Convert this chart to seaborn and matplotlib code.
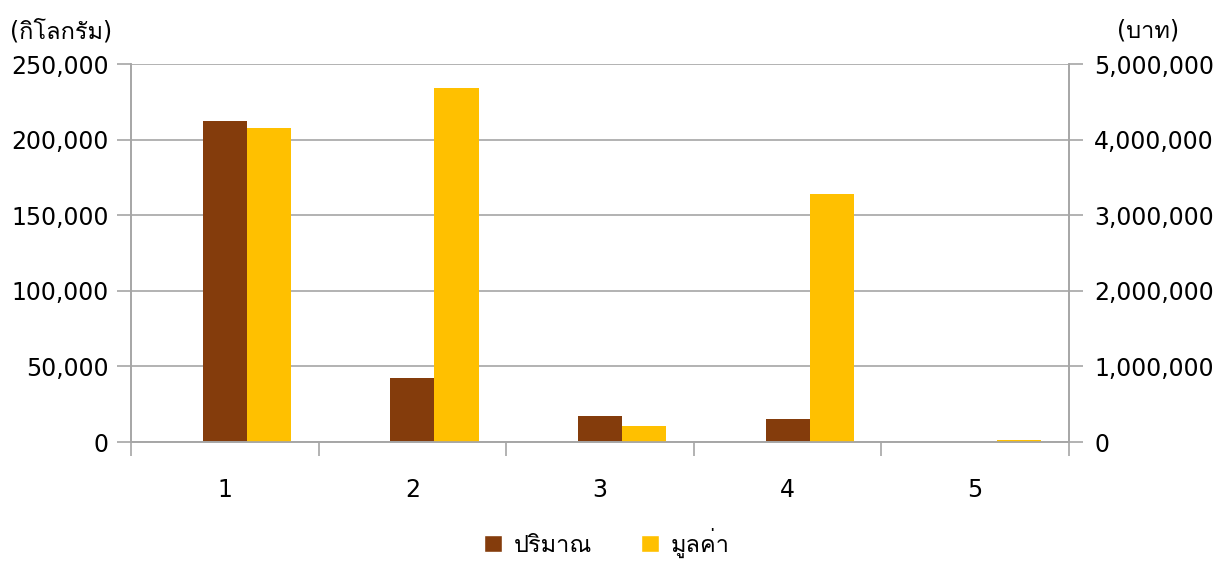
import numpy as np
import pandas as pd
import matplotlib
matplotlib.use("Agg")
import matplotlib.pyplot as plt
import seaborn as sns
from matplotlib import font_manager
from matplotlib.ft2font import FT2Font
from matplotlib.patches import Patch
from matplotlib.ticker import FuncFormatter

categories = ["1", "2", "3", "4", "5"]
quantity_kg = [212300, 42500, 17000, 15500, 0]
value_baht = [4150000, 4678000, 208000, 3276000, 25000]
series_names = ["ปริมาณ", "มูลค่า"]
left_unit = "(กิโลกรัม)"
right_unit = "(บาท)"

brown = "#843C0C"
yellow = "#FFC000"
grid_gray = "#A6A6A6"


def find_thai_family():
    # look for any installed font that carries Thai glyphs
    for f in font_manager.fontManager.ttflist:
        try:
            if 0x0E01 in FT2Font(f.fname).get_charmap():
                return f.name
        except Exception:
            pass
    return None


sns.set_style("white")
thai = find_thai_family()
fams = ["DejaVu Sans"]
if thai:
    fams.append(thai)
plt.rcParams["font.family"] = fams
plt.rcParams["text.color"] = "black"

fig = plt.figure(figsize=(12.14, 5.63), dpi=100)
ax1 = fig.add_axes([0.1079, 0.2149, 0.7727, 0.6714])
ax2 = ax1.twinx()

df = pd.DataFrame({"cat": categories, "qty": quantity_kg, "val": value_baht})
bw = 0.235
sns.barplot(data=df, x="cat", y="qty", ax=ax1, color=brown, width=bw,
            saturation=1, errorbar=None)
sns.barplot(data=df, x="cat", y="val", ax=ax2, color=yellow, width=bw,
            saturation=1, errorbar=None)
# yellow bars sit right next to the brown ones
for p in ax2.patches:
    p.set_x(p.get_x() + bw)
    p.set_linewidth(0)
for p in ax1.patches:
    p.set_linewidth(0)

ax1.set_xlim(-0.5, len(categories) - 0.5)
ax1.set_ylim(0, 250000)
ax2.set_ylim(0, 5000000)
ax1.set_yticks(np.arange(0, 250001, 50000))
ax2.set_yticks(np.arange(0, 5000001, 1000000))
fmt = FuncFormatter(lambda v, _: f"{int(v):,}")
ax1.yaxis.set_major_formatter(fmt)
ax2.yaxis.set_major_formatter(fmt)

ax1.set_axisbelow(True)
ax1.yaxis.grid(True, color=grid_gray, linewidth=1.2)
ax1.xaxis.grid(False)
ax2.grid(False)

for ax in (ax1, ax2):
    ax.set_xlabel("")
    ax.set_ylabel("")
    for s in ax.spines.values():
        s.set_color(grid_gray)
        s.set_linewidth(1.2)
    ax.spines["top"].set_visible(False)

ax1.tick_params(axis="y", which="major", length=10, width=1.2, color=grid_gray,
                labelcolor="black", labelsize=17, pad=6, left=True)
ax2.tick_params(axis="y", which="major", length=10, width=1.2, color=grid_gray,
                labelcolor="black", labelsize=17, pad=8, right=True)
ax1.set_xticks(np.arange(-0.5, len(categories)), minor=True)
ax1.tick_params(axis="x", which="minor", length=10, width=1.2, color=grid_gray,
                bottom=True)
ax1.tick_params(axis="x", which="major", length=0, labelsize=17, pad=26,
                labelcolor="black")

fig.text(0.008, 0.945, left_unit, fontsize=17, ha="left", va="center")
fig.text(0.971, 0.945, right_unit, fontsize=17, ha="right", va="center")

handles = [Patch(facecolor=brown, label=series_names[0]),
           Patch(facecolor=yellow, label=series_names[1])]
fig.legend(handles=handles, loc="center", bbox_to_anchor=(0.5, 0.036), ncol=2,
           frameon=False, fontsize=17, handlelength=0.75, handleheight=0.75,
           handletextpad=0.5, columnspacing=2.1)

fig.savefig("out.png", dpi=100)
